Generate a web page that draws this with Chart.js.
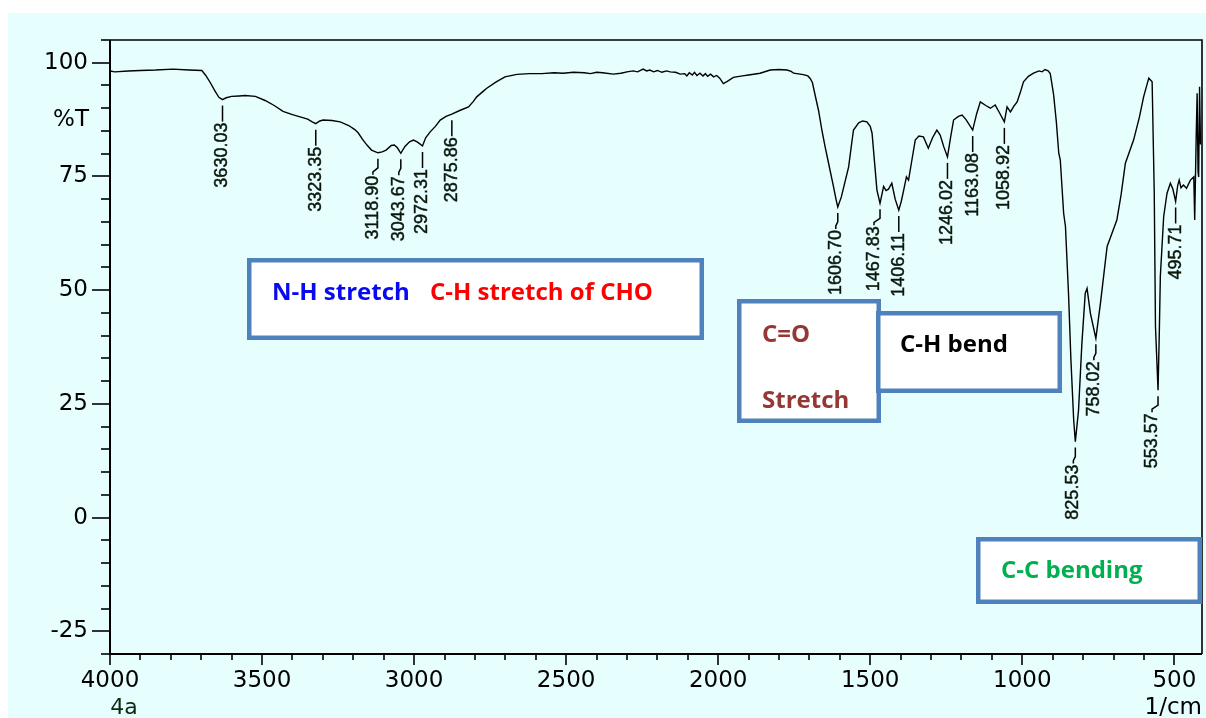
<!DOCTYPE html>
<html>
<head>
<meta charset="utf-8">
<title>FTIR spectrum 4a</title>
<script src="https://cdn.jsdelivr.net/npm/chart.js@4.4.0/dist/chart.umd.min.js"></script>
<style>
  html, body { margin: 0; padding: 0; background: #ffffff; }
  #wrap { width: 1206px; height: 718px; }
</style>
</head>
<body>
<div id="wrap"><canvas id="ir" width="1206" height="718"></canvas></div>
<script>
// Wavenumber (1/cm) of each recorded point, high to low
const wavenumbers = [
  4000, 3984, 3940, 3900, 3850, 3793, 3740, 3698, 3685, 3670, 3655, 3642, 3630.03, 3618, 3600, 3575,
  3556, 3522, 3490, 3460, 3431, 3400, 3375, 3350, 3335, 3323.35, 3310, 3299, 3270, 3243, 3215, 3195,
  3184, 3170, 3155, 3140, 3118.90, 3105, 3092, 3075, 3065, 3055, 3043.67, 3030, 3015, 3002, 2990, 2980,
  2972.31, 2962, 2947, 2930, 2914, 2895, 2875.86, 2850, 2821, 2805, 2794, 2775, 2761, 2730, 2701, 2662,
  2620, 2580, 2540, 2510, 2476, 2440, 2420, 2400, 2380, 2345, 2320, 2300, 2280, 2265, 2247, 2235,
  2225, 2212, 2200, 2185, 2170, 2158, 2140, 2125, 2110, 2103, 2095, 2085, 2078, 2070, 2060, 2050,
  2042, 2035, 2025, 2015, 2005, 1995, 1983, 1970, 1950, 1920, 1900, 1862, 1829, 1800, 1774, 1760,
  1752, 1720, 1705, 1697, 1690, 1681, 1670, 1659, 1648, 1637, 1621, 1612, 1606.70, 1595, 1583, 1571,
  1560, 1555, 1538, 1525, 1511, 1500, 1494, 1485, 1478, 1467.83, 1456, 1448, 1440, 1429, 1418, 1406.11,
  1398, 1390, 1381, 1374, 1362, 1352, 1340, 1325, 1309, 1295, 1281, 1270, 1258, 1246.02, 1236, 1226,
  1210, 1198, 1185, 1163.08, 1150, 1138, 1120, 1105, 1089, 1075, 1058.92, 1050, 1039, 1028, 1017, 1005,
  996, 980, 963, 945, 935, 925, 915, 908, 897, 888, 880, 875, 864, 858, 848, 840,
  831, 825.53, 815, 804, 793, 787, 776, 758.02, 743, 730, 721, 705, 689, 675, 661, 634,
  615, 601, 590, 584, 573, 566, 562, 553.57, 549, 546, 535, 524, 513, 505, 495.71, 489,
  484, 478, 470, 460, 447, 436, 433, 428, 425, 422, 420, 417, 414
];

// Transmittance (%T) at each wavenumber above
const transmittance = [
  98.2, 98.0, 98.2, 98.3, 98.4, 98.6, 98.4, 98.3, 97.2, 95.6, 93.8, 92.4, 91.9, 92.3, 92.6, 92.7,
  92.8, 92.6, 91.7, 90.6, 89.3, 88.6, 88.1, 87.6, 87.0, 86.6, 87.2, 87.4, 87.3, 87.0, 86.2, 85.3,
  84.6, 83.2, 81.9, 80.8, 80.2, 80.4, 80.8, 81.8, 81.9, 81.3, 80.1, 81.6, 82.6, 83.0, 82.6, 82.1,
  81.7, 83.5, 84.8, 86.0, 87.4, 88.2, 88.7, 89.5, 90.3, 91.5, 92.5, 93.6, 94.4, 95.8, 96.9, 97.45,
  97.6, 97.6, 97.8, 97.7, 97.9, 97.8, 97.6, 97.9, 97.8, 97.5, 97.7, 98.0, 98.2, 98.0, 98.6, 98.2,
  98.4, 98.0, 98.3, 97.9, 98.2, 98.0, 97.9, 97.5, 97.6, 97.1, 97.8, 97.3, 97.9, 97.2, 97.7, 97.1,
  97.6, 97.0, 97.5, 96.9, 97.2, 96.6, 95.4, 95.9, 96.8, 97.1, 97.3, 97.7, 98.4, 98.5, 98.4, 98.1,
  97.7, 97.4, 97.1, 96.5, 95.6, 92.8, 89.5, 85.2, 81.4, 77.9, 72.8, 69.8, 68.3, 70.5, 73.8, 77.1,
  82.8, 85.2, 86.8, 87.2, 87.0, 86.0, 84.5, 77.5, 72.0, 69.1, 72.8, 71.9, 72.2, 73.5, 70.0, 67.6,
  69.5, 72.0, 74.9, 74.2, 79.0, 83.0, 83.9, 83.7, 81.2, 83.5, 85.2, 84.1, 81.5, 79.3, 83.5, 87.4,
  88.2, 88.5, 87.5, 85.2, 88.8, 91.4, 90.6, 90.0, 90.7, 89.0, 87.0, 90.3, 89.2, 90.4, 91.4, 93.8,
  95.8, 97.0, 97.7, 98.2, 98.0, 98.5, 98.2, 97.6, 93.0, 87.0, 80.1, 78.6, 66.9, 64.0, 49.3, 34.6,
  21.5, 16.7, 23.6, 38.3, 49.3, 50.4, 44.9, 39.4, 47.1, 54.5, 59.6, 62.5, 65.4, 71.0, 77.9, 83.0,
  88.0, 92.5, 95.2, 96.6, 95.8, 71.3, 42.0, 28.0, 42.0, 53.0, 66.2, 71.3, 73.5, 72.3, 69.5, 73.0,
  74.2, 72.5, 73.1, 72.4, 74.2, 74.9, 65.4, 84.0, 93.3, 76.0, 74.9, 94.7, 82.0
];

// Picked absorption bands (1/cm)
const peakWavenumbers = [3630.03, 3323.35, 3118.90, 3043.67, 2972.31, 2875.86, 1606.70, 1467.83,
  1406.11, 1246.02, 1163.08, 1058.92, 825.53, 758.02, 553.57, 495.71];

// Labelled axis ticks
const xTickLabels = [4000, 3500, 3000, 2500, 2000, 1500, 1000, 500];
const yTickLabels = [100, 75, 50, 25, 0, -25];

// Band assignment notes
const noteTexts = [
  [{ text: 'N-H stretch', color: '#0a0af0' }, { text: 'C-H stretch of CHO', color: '#ff0000' }],
  [{ text: 'C=O', color: '#953735' }, { text: 'Stretch', color: '#953735' }],
  [{ text: 'C-H bend', color: '#000000' }],
  [{ text: 'C-C bending', color: '#00b050' }]
];

// ---- layout / style ----
const BG = '#e6fefe';
const BOX_BLUE = '#4f81bd';
const NOTE_FONT = 'bold 24px "Open Sans", sans-serif';
const AXIS_FONT = '"DejaVu Sans", sans-serif';
// sideways shift (px) of a peak label relative to its leader
const labelShift = { 3118.90: -5, 3043.67: -2, 1606.70: -2, 1467.83: -6, 825.53: -2, 758.02: -2, 553.57: -6 };
// note boxes: outer rectangle and the text lines (x, baseline)
const noteBoxes = [
  { rect: [247, 258, 457, 82], lines: [[272, 300], [430, 300]] },
  { rect: [737, 299, 144, 124], lines: [[762, 342], [762, 408]] },
  { rect: [876, 311, 186, 82], lines: [[900, 352]] },
  { rect: [976, 537, 226, 67], lines: [[1001, 578]] }
];

// every 100 1/cm for x, every 5 %T for y
function stepTicks(scale, step) {
  const out = [];
  const first = Math.ceil(scale.min / step) * step;
  for (let v = first; v <= scale.max + 1e-9; v += step) out.push({ value: Math.round(v * 1000) / 1000 });
  scale.ticks = out;
}

const backdrop = {
  id: 'backdrop',
  beforeDraw(chart) {
    const ctx = chart.ctx;
    ctx.save();
    ctx.fillStyle = '#ffffff';
    ctx.fillRect(0, 0, chart.width, chart.height);
    ctx.fillStyle = BG;
    ctx.fillRect(8, 13, chart.width - 8, chart.height - 13);
    ctx.restore();
  }
};

const frameAndTicks = {
  id: 'frameAndTicks',
  afterDatasetsDraw(chart) {
    const ctx = chart.ctx;
    const { left, right, top, bottom } = chart.chartArea;
    const xs = chart.scales.x, ys = chart.scales.y;
    ctx.save();
    ctx.strokeStyle = '#000';
    ctx.lineCap = 'butt';

    // y ticks, longer at labelled values
    ctx.lineWidth = 1.6;
    ys.ticks.forEach(t => {
      const y = Math.round(ys.getPixelForValue(t.value));
      const len = yTickLabels.includes(t.value) ? 18 : 9;
      ctx.beginPath(); ctx.moveTo(left - len, y); ctx.lineTo(left, y); ctx.stroke();
    });
    // x ticks
    xs.ticks.forEach(t => {
      const x = Math.round(xs.getPixelForValue(t.value));
      const len = xTickLabels.includes(t.value) ? 11 : 6;
      ctx.beginPath(); ctx.moveTo(x, bottom); ctx.lineTo(x, bottom + len); ctx.stroke();
    });

    // plot frame
    ctx.lineWidth = 2;
    ctx.beginPath();
    ctx.moveTo(left, top); ctx.lineTo(left, bottom); ctx.lineTo(right, bottom);
    ctx.stroke();
    ctx.lineWidth = 1.6;
    ctx.beginPath();
    ctx.moveTo(left, top); ctx.lineTo(right, top); ctx.lineTo(right, bottom);
    ctx.stroke();

    // axis captions
    ctx.fillStyle = '#000';
    ctx.font = '23px ' + AXIS_FONT;
    ctx.textBaseline = 'middle';
    ctx.textAlign = 'right';
    ctx.fillText('%T', 89, 120);
    ctx.fillText('1/cm', right, 708);
    ctx.textAlign = 'center';
    ctx.fillStyle = '#102810';
    ctx.font = '22px ' + AXIS_FONT;
    ctx.fillText('4a', 124, 708);

    // peak labels with leaders
    ctx.strokeStyle = '#000';
    ctx.lineWidth = 1.5;
    ctx.fillStyle = '#0b170b';
    ctx.font = '18px "Liberation Sans", Arial, sans-serif';
    peakWavenumbers.forEach(w => {
      const i = wavenumbers.indexOf(w);
      const px = xs.getPixelForValue(w);
      const py = ys.getPixelForValue(transmittance[i]);
      const dx = labelShift[w] || 0;
      ctx.beginPath();
      ctx.moveTo(px, py + 6);
      ctx.lineTo(px, py + 15);
      ctx.lineTo(px + dx, py + 19);
      ctx.lineTo(px + dx, py + 22);
      ctx.stroke();
      ctx.save();
      ctx.translate(px + dx, py + 23);
      ctx.rotate(-Math.PI / 2);
      ctx.textAlign = 'right';
      ctx.textBaseline = 'middle';
      ctx.lineWidth = 0.45;
      ctx.strokeStyle = '#0b170b';
      ctx.fillText(w.toFixed(2), 0, 0);
      ctx.strokeText(w.toFixed(2), 0, 0);
      ctx.restore();
    });

    // assignment boxes
    noteBoxes.forEach(b => {
      const [x, y, w, h] = b.rect;
      ctx.fillStyle = '#ffffff';
      ctx.fillRect(x, y, w, h);
      ctx.strokeStyle = BOX_BLUE;
      ctx.lineWidth = 4.5;
      ctx.strokeRect(x + 2.25, y + 2.25, w - 4.5, h - 4.5);
    });
    ctx.font = NOTE_FONT;
    ctx.textAlign = 'left';
    ctx.textBaseline = 'alphabetic';
    noteBoxes.forEach((b, k) => {
      b.lines.forEach((p, j) => {
        const item = noteTexts[k][j];
        ctx.fillStyle = item.color;
        ctx.fillText(item.text, p[0], p[1]);
      });
    });
    ctx.restore();
  }
};

const points = wavenumbers.map((w, i) => ({ x: w, y: transmittance[i] }));

new Chart(document.getElementById('ir'), {
  type: 'line',
  data: {
    datasets: [{
      data: points,
      borderColor: '#000000',
      borderWidth: 1.4,
      pointRadius: 0,
      tension: 0,
      fill: false
    }]
  },
  options: {
    responsive: false,
    animation: false,
    events: [],
    layout: { padding: { left: 0, right: 4, top: 40, bottom: 0 } },
    plugins: { legend: { display: false }, tooltip: { enabled: false } },
    scales: {
      x: {
        type: 'linear',
        reverse: true,
        min: 409,
        max: 4000,
        afterBuildTicks(s) { stepTicks(s, 100); },
        afterFit(s) { s.height = 64; s.paddingLeft = 0; s.paddingRight = 0; },
        grid: { display: false, drawTicks: false },
        border: { display: false },
        ticks: {
          autoSkip: false,
          maxRotation: 0,
          padding: 13,
          color: '#000',
          font: { family: AXIS_FONT, size: 23 },
          callback: v => (xTickLabels.includes(v) ? String(v) : '')
        }
      },
      y: {
        min: -30,
        max: 105,
        afterBuildTicks(s) { stepTicks(s, 5); },
        afterFit(s) { s.width = 110; s.paddingTop = 0; s.paddingBottom = 0; },
        grid: { display: false, drawTicks: false },
        border: { display: false },
        ticks: {
          autoSkip: false,
          padding: 22,
          color: '#000',
          font: { family: AXIS_FONT, size: 23 },
          callback: v => (yTickLabels.includes(v) ? String(v) : '')
        }
      }
    }
  },
  plugins: [backdrop, frameAndTicks]
});
</script>
</body>
</html>
